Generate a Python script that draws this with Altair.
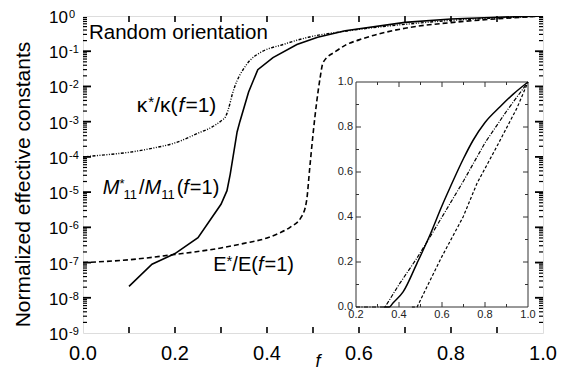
import altair as alt
import pandas as pd

FONT = "Liberation Sans"

# ---------------- main panel data (log scale) ----------------
f_kappa = [0.0, 0.05, 0.10, 0.15, 0.20, 0.25, 0.28, 0.30, 0.31, 0.317, 0.325, 0.33,
           0.34, 0.348, 0.363, 0.385, 0.435, 0.49, 0.57, 0.70, 0.80, 0.90, 1.0]
kappa = [1.0e-4, 1.15e-4, 1.35e-4, 1.75e-4, 2.5e-4, 4.7e-4, 7.0e-4, 1.05e-3, 1.4e-3, 2.5e-3,
         6.3e-3, 1.0e-2, 2.0e-2, 3.0e-2, 5.5e-2, 9.1e-2, 0.155, 0.25, 0.37, 0.58, 0.75, 0.88, 1.0]

f_m11 = [0.10, 0.15, 0.20, 0.25, 0.30, 0.313, 0.32, 0.335, 0.341, 0.36, 0.38, 0.413,
         0.465, 0.51, 0.57, 0.70, 0.80, 0.90, 1.0]
m11 = [2.1e-8, 9.0e-8, 1.8e-7, 5.1e-7, 4.5e-6, 1.1e-5, 3.2e-5, 5.1e-4, 1.0e-3, 7.0e-3,
       3.0e-2, 6.6e-2, 0.155, 0.25, 0.38, 0.66, 0.82, 0.92, 1.0]

f_e = [0.0, 0.1, 0.2, 0.3, 0.35, 0.4, 0.428, 0.45, 0.475, 0.486, 0.493, 0.50, 0.508, 0.515,
       0.522, 0.55, 0.573, 0.60, 0.70, 0.80, 0.90, 1.0]
e_mod = [1.0e-7, 1.2e-7, 1.7e-7, 2.6e-7, 3.5e-7, 5.0e-7, 7.0e-7, 1.0e-6, 2.0e-6, 5.6e-6, 5.0e-5,
         4.3e-4, 3.6e-3, 1.6e-2, 4.8e-2, 0.10, 0.155, 0.21, 0.45, 0.65, 0.83, 1.0]

# ---------------- inset data (linear scale) ----------------
inset_f_kappa = [0.2, 0.335, 0.405, 0.484, 0.55, 0.60, 0.70, 0.80, 0.90, 1.0]
inset_kappa = [0.0, 0.0, 0.107, 0.218, 0.32, 0.40, 0.56, 0.73, 0.87, 1.0]
inset_f_m11 = [0.33, 0.355, 0.372, 0.419, 0.484, 0.544, 0.60, 0.637, 0.70, 0.744, 0.80, 0.87, 0.93, 1.0]
inset_m11 = [0.0, 0.0, 0.018, 0.067, 0.195, 0.32, 0.45, 0.53, 0.66, 0.74, 0.82, 0.89, 0.945, 1.0]
inset_f_e = [0.46, 0.484, 0.53, 0.60, 0.698, 0.763, 0.856, 0.949, 1.0]
inset_e = [0.0, 0.0, 0.09, 0.225, 0.40, 0.55, 0.715, 0.885, 1.0]

# ---------------- axes / ticks ----------------
x_domain = [0.0, 1.0]
y_domain = [1e-9, 1.0]
x_labels = [0.0, 0.2, 0.4, 0.6, 0.8, 1.0]
x_tick_vals = [0.1, 0.2, 0.3, 0.4, 0.5, 0.6, 0.7, 0.8, 0.9]
y_exponents = [0, -1, -2, -3, -4, -5, -6, -7, -8, -9]
y_major = [10.0 ** e for e in y_exponents]
y_minor = [k * 10.0 ** e for e in y_exponents[1:] for k in range(2, 10)]
x_title = "f"
y_title = "Normalized effective constants"

inset_x_domain = [0.2, 1.0]
inset_y_domain = [0.0, 1.0]
inset_x_labels = [0.2, 0.4, 0.6, 0.8, 1.0]
inset_y_labels = [0.0, 0.2, 0.4, 0.6, 0.8, 1.0]
inset_x_major = [0.4, 0.6, 0.8]
inset_x_minor = [0.3, 0.5, 0.7, 0.9]
inset_y_major = [0.2, 0.4, 0.6, 0.8]
inset_y_minor = [0.1, 0.3, 0.5, 0.7, 0.9]

# annotations (anchor in data coordinates)
ann_random = (0.013, 0.22)
ann_kappa = (0.117, 1.9e-3)
ann_m11 = (0.043, 8.7e-6)
ann_e = (0.283, 5.6e-8)

W, H = 460, 317
# inset box in pixels inside the plot
IX0, IX1, IY0, IY1 = 273, 445, 291, 66

xs = alt.Scale(domain=x_domain, nice=False, zero=False)
ys = alt.Scale(type="log", domain=y_domain, nice=False)
xi = alt.Scale(domain=inset_x_domain, range=[IX0, IX1], nice=False, zero=False)
yi = alt.Scale(domain=inset_y_domain, range=[IY0, IY1], nice=False, zero=False)


def df_xy(xv, yv):
    return pd.DataFrame({"f": xv, "v": yv})


X = lambda: alt.X("f:Q", scale=xs, axis=None)
Y = lambda: alt.Y("v:Q", scale=ys, axis=None)

# ---------------- main layers ----------------
main_layers = []

main_layers.append(alt.Chart(df_xy(f_m11, m11)).mark_line(
    color="black", strokeWidth=1.6, clip=True).encode(x=X(), y=Y()))
main_layers.append(alt.Chart(df_xy(f_kappa, kappa)).mark_line(
    color="black", strokeWidth=1.4, strokeDash=[3, 1.5, 1, 1.5, 1, 1.5],
    interpolate="monotone", clip=True).encode(x=X(), y=Y()))
main_layers.append(alt.Chart(df_xy(f_e, e_mod)).mark_line(
    color="black", strokeWidth=1.6, strokeDash=[5, 3], interpolate="monotone",
    clip=True).encode(x=X(), y=Y()))

# x ticks bottom & top (inward)
xt = pd.DataFrame({"f": x_tick_vals})
main_layers.append(alt.Chart(xt).mark_rule(color="black", strokeWidth=1.6).encode(
    x=X(), y=alt.value(H), y2=alt.value(H - 6)))
main_layers.append(alt.Chart(xt).mark_rule(color="black", strokeWidth=1.6).encode(
    x=X(), y=alt.value(0), y2=alt.value(6)))

# x tick labels and title
xl = pd.DataFrame({"f": x_labels, "t": [f"{v:.1f}" for v in x_labels]})
main_layers.append(alt.Chart(xl).mark_text(
    font=FONT, fontSize=20, align="center", baseline="top", color="black"
).encode(x=X(), y=alt.value(H + 11), text="t:N"))
main_layers.append(alt.Chart(pd.DataFrame({"t": [x_title]})).mark_text(
    font=FONT, fontSize=18, fontStyle="italic", align="center", baseline="alphabetic",
    color="black").encode(x=alt.value(W / 2 + 5), y=alt.value(H + 34), text="t:N"))
# y title
main_layers.append(alt.Chart(pd.DataFrame({"t": [y_title]})).mark_text(
    font=FONT, fontSize=21, angle=270, align="center", baseline="middle",
    color="black").encode(x=alt.value(-59), y=alt.value(H / 2 + 10), text="t:N"))

# y ticks left & right
ymaj = pd.DataFrame({"v": y_major[1:-1]})
ymin = pd.DataFrame({"v": y_minor})
for x0, sgn in ((0, 1), (W, -1)):
    main_layers.append(alt.Chart(ymaj).mark_rule(color="black", strokeWidth=1.8).encode(
        y=Y(), x=alt.value(x0), x2=alt.value(x0 + sgn * 8)))
    main_layers.append(alt.Chart(ymin).mark_rule(color="black", strokeWidth=1.2).encode(
        y=Y(), x=alt.value(x0), x2=alt.value(x0 + sgn * 4)))

# y tick labels: "10" + superscript exponent
ylab = pd.DataFrame({"v": y_major, "base": ["10"] * len(y_major),
                     "exp": [str(e) for e in y_exponents]})
main_layers.append(alt.Chart(ylab).mark_text(
    font=FONT, fontSize=17, align="right", baseline="middle", dy=2, color="black"
).encode(y=Y(), x=alt.value(-15), text="base:N"))
main_layers.append(alt.Chart(ylab).mark_text(
    font=FONT, fontSize=11, align="left", baseline="middle", dy=-1, color="black"
).encode(y=Y(), x=alt.value(-14), text="exp:N"))

# text annotations composed from pieces
em = {"M": 0.833, "*": 0.389, "1": 0.556, "/": 0.278, "(": 0.333, ")": 0.333,
      "f": 0.278, "=": 0.584, "E": 0.667, "κ": 0.55}


def label(anchor, pieces):
    out = []
    dx = 0.0
    adf = pd.DataFrame({"f": [anchor[0]], "v": [anchor[1]]})
    for txt, style, size, dy, extra in pieces:
        out.append(alt.Chart(adf).mark_text(
            text=txt, font=FONT, fontSize=size, fontStyle=style, align="left",
            baseline="alphabetic", dx=dx, dy=dy, color="black"
        ).encode(x=X(), y=Y()))
        dx += sum(em.get(c, 0.55) for c in txt) * size + extra
    return out


main_layers += label(ann_random, [("Random orientation", "normal", 20.5, 0, 0)])
main_layers += label(ann_kappa, [("κ", "normal", 21, 0, 0), ("*", "normal", 15, -5, 0),
                                 ("/κ(", "normal", 21, 0, 0), ("f", "italic", 21, 0, 1),
                                 ("=1)", "normal", 21, 0, 0)])
main_layers += label(ann_m11, [("M", "italic", 20, 0, 0), ("*", "normal", 13, -6, -1),
                               ("11", "normal", 13, 5, 1), ("/", "normal", 20, 0, 0),
                               ("M", "italic", 20, 0, 0), ("11", "normal", 13, 5, 1),
                               ("(", "normal", 20, 0, 0), ("f", "italic", 20, 0, 1),
                               ("=1)", "normal", 20, 0, 0)])
main_layers += label(ann_e, [("E", "normal", 20, 0, 0), ("*", "normal", 15, -5, 0),
                             ("/E(", "normal", 20, 0, 0), ("f", "italic", 20, 0, 1),
                             ("=1)", "normal", 20, 0, 0)])

main = alt.layer(*main_layers)

# ---------------- inset layers ----------------
XI = lambda: alt.X("f:Q", scale=xi, axis=None)
YI = lambda: alt.Y("v:Q", scale=yi, axis=None)
inset_layers = []
frame = pd.DataFrame({"x0": [inset_x_domain[0]], "x1": [inset_x_domain[1]],
                      "y0": [inset_y_domain[0]], "y1": [inset_y_domain[1]]})
inset_layers.append(alt.Chart(frame).mark_rect(fill="white", stroke="#333333", strokeWidth=1).encode(
    x=alt.X("x0:Q", scale=xi, axis=None), x2="x1:Q",
    y=alt.Y("y0:Q", scale=yi, axis=None), y2="y1:Q"))

inset_layers.append(alt.Chart(df_xy(inset_f_kappa, inset_kappa)).mark_line(
    color="black", strokeWidth=1.2, strokeDash=[4, 1.5, 1, 1.5]).encode(x=XI(), y=YI()))
inset_layers.append(alt.Chart(df_xy(inset_f_e, inset_e)).mark_line(
    color="black", strokeWidth=1.2, strokeDash=[3, 2]).encode(x=XI(), y=YI()))
inset_layers.append(alt.Chart(df_xy(inset_f_m11, inset_m11)).mark_line(
    color="black", strokeWidth=1.5, interpolate="monotone").encode(x=XI(), y=YI()))

for vals, ln in ((inset_x_major, 5), (inset_x_minor, 3)):
    d = pd.DataFrame({"f": vals})
    inset_layers.append(alt.Chart(d).mark_rule(color="#333333", strokeWidth=1).encode(
        x=XI(), y=alt.value(IY0), y2=alt.value(IY0 - ln)))
    inset_layers.append(alt.Chart(d).mark_rule(color="#333333", strokeWidth=1).encode(
        x=XI(), y=alt.value(IY1), y2=alt.value(IY1 + ln)))
for vals, ln in ((inset_y_major, 5), (inset_y_minor, 3)):
    d = pd.DataFrame({"v": vals})
    inset_layers.append(alt.Chart(d).mark_rule(color="#333333", strokeWidth=1).encode(
        y=YI(), x=alt.value(IX0), x2=alt.value(IX0 + ln)))
    inset_layers.append(alt.Chart(d).mark_rule(color="#333333", strokeWidth=1).encode(
        y=YI(), x=alt.value(IX1), x2=alt.value(IX1 - ln)))

ixl = pd.DataFrame({"f": inset_x_labels, "t": [f"{v:.1f}" for v in inset_x_labels]})
inset_layers.append(alt.Chart(ixl).mark_text(
    font=FONT, fontSize=11, align="center", baseline="top", color="#222222"
).encode(x=XI(), y=alt.value(IY0 + 2), text="t:N"))
iyl = pd.DataFrame({"v": inset_y_labels, "t": [f"{v:.1f}" for v in inset_y_labels]})
inset_layers.append(alt.Chart(iyl).mark_text(
    font=FONT, fontSize=11, align="right", baseline="middle", color="#222222"
).encode(y=YI(), x=alt.value(IX0 - 3), text="t:N"))

inset = alt.layer(*inset_layers)

chart = alt.layer(main, inset).resolve_scale(x="independent", y="independent").properties(
    width=W, height=H,
    autosize=alt.AutoSizeParams(type="none"),
    padding={"left": 75, "top": 8, "right": 16, "bottom": 41},
).configure_view(stroke="black", strokeWidth=2.5).configure(background="white")

chart.save("out.html", embed_options={"renderer": "svg", "actions": False})
